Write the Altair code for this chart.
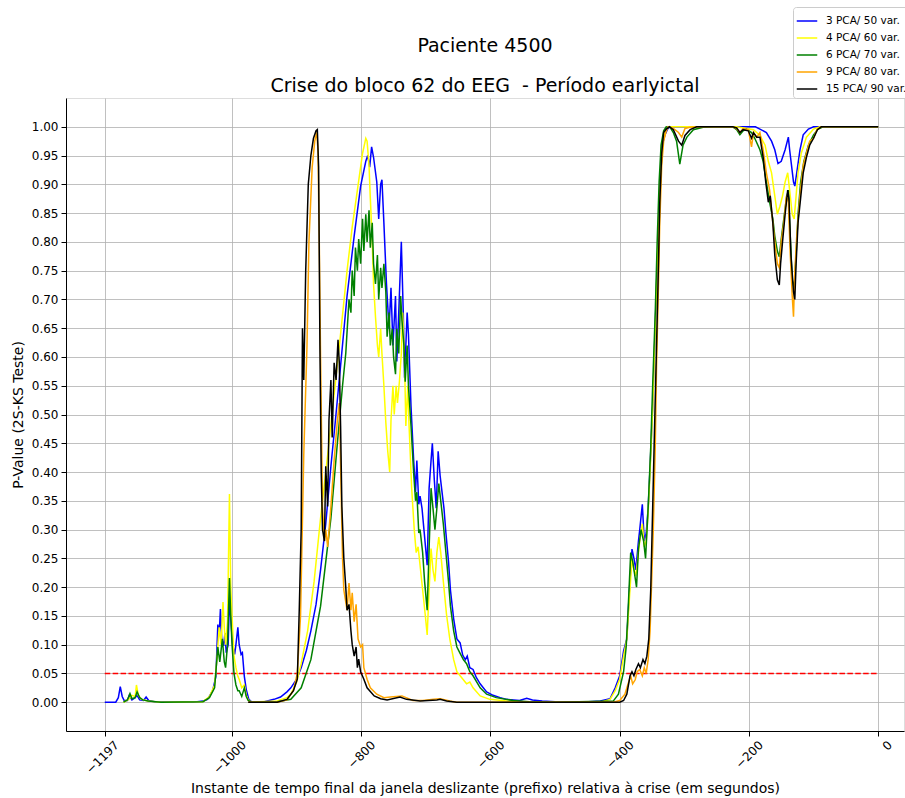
import altair as alt
import pandas as pd

names = ["3 PCA/ 50 var.", "4 PCA/ 60 var.", "6 PCA/ 70 var.", "9 PCA/ 80 var.", "15 PCA/ 90 var."]
colors = ["blue", "yellow", "green", "orange", "black"]

blue_x = [-1197, -1180, -1176, -1173, -1170, -1167, -1162, -1159, -1155, -1150, -1147, -1143, -1137, -1133, -1129, -1120,
          -1060, -1045, -1038, -1030, -1025, -1022, -1020, -1018, -1016, -1013, -1011, -1009, -1006, -1004, -1001, -999,
          -996, -994, -991, -989, -986, -984, -981, -978, -974, -969, -950, -935, -925, -915, -909, -900, -893, -885,
          -878, -870, -863, -855, -847, -840, -832, -822, -811, -801, -793, -790, -787, -784, -781, -776, -773, -770,
          -768, -765, -761, -757, -754, -751, -747, -745, -742, -738, -735, -733, -729, -727, -723, -719, -716, -714,
          -711, -709, -706, -703, -698, -695, -692, -690, -687, -684, -681, -678, -675, -672, -669, -665, -662, -657,
          -652, -647, -643, -639, -636, -632, -627, -622, -616, -606, -596, -585, -575, -555, -544, -535, -520, -500,
          -460, -430, -415, -407, -400, -394, -389, -385, -381, -378, -375, -371, -369, -365, -362, -359, -356, -353,
          -349, -345, -342, -339, -337, -334, -330, -326, -322, -250, -190, -183, -173, -165, -160, -155, -150, -144,
          -139, -137, -131, -129, -126, -121, -116, -108, -100, 0]
blue_y = [0, 0, 0.008, 0.027, 0.01, 0.003, 0.003, 0.012, 0.004, 0.008, 0.012, 0.004, 0.003, 0.009, 0.003, 0.001,
          0, 0.002, 0.005, 0.02, 0.045, 0.135, 0.115, 0.162, 0.11, 0.098, 0.12, 0.086, 0.1, 0.18, 0.13, 0.10,
          0.083, 0.10, 0.13, 0.10, 0.083, 0.086, 0.045, 0.022, 0.005, 0, 0.001, 0.005, 0.009, 0.018, 0.025, 0.04, 0.06, 0.09,
          0.124, 0.17, 0.23, 0.31, 0.41, 0.49, 0.585, 0.706, 0.81, 0.897, 0.94, 0.95, 0.93, 0.965, 0.947, 0.904, 0.84, 0.90,
          0.908, 0.833, 0.727, 0.649, 0.72, 0.62, 0.706, 0.592, 0.677, 0.80, 0.677, 0.564, 0.677, 0.64, 0.514, 0.422, 0.365, 0.42,
          0.344, 0.358, 0.337, 0.30, 0.238, 0.372, 0.42, 0.45, 0.387, 0.337, 0.436, 0.394, 0.365, 0.337, 0.294, 0.245, 0.195, 0.145,
          0.11, 0.103, 0.082, 0.074, 0.08, 0.06, 0.057, 0.043, 0.032, 0.018, 0.012, 0.008, 0.005, 0.003, 0.007, 0.004, 0.002, 0.001,
          0, 0.002, 0.006, 0.025, 0.046, 0.089, 0.11, 0.195, 0.266, 0.25, 0.23, 0.28, 0.30, 0.344, 0.28, 0.294, 0.337, 0.408,
          0.514, 0.656, 0.762, 0.833, 0.904, 0.968, 0.986, 0.996, 1.0, 1.0, 1.0, 0.996, 0.99, 0.975, 0.96, 0.936, 0.94, 0.96,
          0.982, 0.96, 0.904, 0.897, 0.92, 0.96, 0.986, 0.996, 1.0, 1.0]

yellow_x = [-1168, -1160, -1155, -1150, -1148, -1145, -1140, -1130, -1110, -1045, -1035, -1027, -1023, -1020, -1017, -1014,
            -1012, -1010, -1007, -1004, -1002, -1000, -997, -994, -991, -989, -985, -981, -978, -975, -970, -930, -915,
            -909, -900, -893, -883, -873, -863, -852, -842, -832, -822, -814, -806, -798, -793, -791, -788, -786, -783,
            -781, -778, -775, -773, -770, -768, -765, -762, -759, -756, -754, -751, -749, -746, -744, -741, -738, -736,
            -733, -731, -728, -726, -722, -718, -715, -712, -709, -705, -701, -698, -695, -692, -689, -686, -683, -680,
            -677, -673, -668, -663, -657, -652, -647, -642, -637, -632, -627, -616, -601, -575, -555, -430, -415, -407,
            -400, -394, -389, -385, -381, -378, -375, -371, -369, -365, -362, -359, -356, -353, -349, -345, -342, -339,
            -337, -334, -330, -326, -322, -219, -193, -183, -175, -170, -165, -160, -156, -152, -148, -144, -140, -137,
            -133, -130, -127, -124, -119, -111, -100, -90, 0]
yellow_y = [0, 0.005, 0.012, 0.01, 0.03, 0.012, 0.005, 0.002, 0, 0.001, 0.01, 0.03, 0.08, 0.13, 0.10, 0.174,
            0.13, 0.10, 0.14, 0.362, 0.2, 0.15, 0.08, 0.06, 0.045, 0.04, 0.025, 0.03, 0.012, 0.004, 0, 0.002, 0.008,
            0.014, 0.035, 0.067, 0.124, 0.21, 0.32, 0.43, 0.535, 0.64, 0.75, 0.826, 0.89, 0.954, 0.98, 0.975, 0.933, 0.876, 0.80,
            0.727, 0.67, 0.62, 0.60, 0.649, 0.606, 0.55, 0.486, 0.436, 0.40, 0.49, 0.55, 0.50, 0.55, 0.52, 0.557, 0.606, 0.677,
            0.592, 0.48, 0.55, 0.48, 0.372, 0.30, 0.26, 0.27, 0.238, 0.195, 0.152, 0.117, 0.195, 0.267, 0.23, 0.21, 0.26, 0.287,
            0.26, 0.21, 0.152, 0.11, 0.074, 0.053, 0.046, 0.039, 0.032, 0.035, 0.025, 0.011, 0.005, 0.002, 0, 0, 0.005, 0.02,
            0.04, 0.08, 0.11, 0.18, 0.25, 0.23, 0.22, 0.26, 0.28, 0.31, 0.27, 0.28, 0.33, 0.40, 0.51, 0.65, 0.76, 0.85,
            0.91, 0.97, 0.99, 0.998, 1.0, 1.0, 0.995, 0.985, 0.968, 0.94, 0.92, 0.88, 0.848, 0.862, 0.88, 0.904, 0.92, 0.89,
            0.848, 0.84, 0.88, 0.92, 0.954, 0.982, 0.996, 1.0, 1.0]

green_x = [-1168, -1162, -1158, -1155, -1150, -1147, -1143, -1138, -1130, -1110, -1045, -1035, -1027, -1022, -1019, -1017,
           -1015, -1012, -1010, -1007, -1004, -1002, -1000, -997, -994, -991, -989, -985, -981, -978, -975, -970, -930,
           -909, -893, -878, -863, -847, -837, -829, -824, -819, -816, -814, -811, -809, -806, -804, -801, -798, -796,
           -793, -791, -788, -786, -783, -781, -778, -775, -773, -770, -768, -765, -762, -760, -757, -755, -752, -750,
           -747, -745, -742, -739, -737, -734, -732, -729, -727, -723, -719, -716, -714, -711, -709, -705, -702, -698,
           -695, -692, -689, -686, -683, -680, -677, -673, -669, -665, -662, -657, -652, -647, -642, -637, -632, -627,
           -616, -606, -591, -565, -540, -500, -410, -402, -394, -390, -387, -383, -380, -377, -374, -371, -367, -363,
           -360, -356, -352, -349, -345, -342, -339, -336, -332, -328, -322, -317, -312, -307, -302, -296, -286, -271,
           -255, -225, -219, -214, -209, -204, -196, -191, -183, -178, -173, -168, -163, -160, -156, -153, -150, -146,
           -142, -139, -137, -133, -130, -127, -124, -120, -115, -108, -100, -93, -85, 0]
green_y = [0, 0.004, 0.015, 0.006, 0.008, 0.018, 0.008, 0.004, 0.002, 0, 0.001, 0.008, 0.025, 0.096, 0.07, 0.09,
           0.11, 0.07, 0.06, 0.1, 0.216, 0.15, 0.10, 0.05, 0.03, 0.02, 0.02, 0.01, 0.025, 0.01, 0.003, 0, 0.001,
           0.005, 0.025, 0.074, 0.167, 0.32, 0.45, 0.55, 0.606, 0.70, 0.677, 0.75, 0.706, 0.79, 0.75, 0.805, 0.762, 0.84, 0.784,
           0.848, 0.80, 0.855, 0.79, 0.833, 0.762, 0.727, 0.777, 0.70, 0.755, 0.72, 0.762, 0.713, 0.635, 0.677, 0.62, 0.649, 0.60,
           0.57, 0.649, 0.606, 0.706, 0.663, 0.62, 0.557, 0.62, 0.55, 0.48, 0.40, 0.35, 0.365, 0.294, 0.30, 0.26, 0.21, 0.16,
           0.267, 0.372, 0.337, 0.30, 0.337, 0.38, 0.35, 0.31, 0.26, 0.21, 0.167, 0.124, 0.096, 0.085, 0.074, 0.067, 0.053, 0.046,
           0.025, 0.014, 0.008, 0.003, 0.001, 0, 0.002, 0.014, 0.053, 0.096, 0.16, 0.26, 0.245, 0.223, 0.2, 0.266, 0.30, 0.28,
           0.25, 0.337, 0.443, 0.55, 0.677, 0.80, 0.904, 0.968, 0.993, 1.0, 0.999, 0.99, 0.975, 0.935, 0.968, 0.982, 0.995, 0.999,
           1.0, 1.0, 0.995, 0.986, 0.993, 0.996, 0.99, 0.98, 0.96, 0.94, 0.904, 0.869, 0.84, 0.81, 0.784, 0.774, 0.805, 0.84,
           0.876, 0.89, 0.833, 0.734, 0.72, 0.777, 0.848, 0.904, 0.94, 0.968, 0.986, 0.996, 1.0, 1.0]

orange_x = [-975, -930, -915, -905, -899, -894, -889, -884, -881, -876, -872, -869, -867, -865, -863, -860, -857, -855,
            -852, -847, -842, -837, -834, -832, -829, -827, -822, -819, -816, -814, -811, -808, -805, -801, -798, -796,
            -791, -786, -776, -765, -755, -737, -720, -705, -688, -678, -663, -652, -410, -400, -392, -387, -383, -380,
            -376, -373, -369, -365, -362, -359, -356, -353, -351, -348, -345, -343, -340, -338, -335, -332, -328, -325,
            -317, -309, -304, -299, -291, -276, -225, -219, -214, -209, -201, -196, -193, -188, -183, -178, -173, -168,
            -163, -160, -156, -153, -150, -146, -142, -139, -136, -133, -131, -129, -126, -121, -116, -111, -106, -100,
            -95, -88, 0]
orange_y = [0, 0, 0.004, 0.02, 0.05, 0.15, 0.43, 0.62, 0.80, 0.93, 0.975, 0.99, 0.96, 0.80, 0.60, 0.34, 0.28, 0.3,
            0.27, 0.34, 0.42, 0.49, 0.52, 0.41, 0.25, 0.195, 0.16, 0.207, 0.16, 0.19, 0.14, 0.17, 0.11, 0.096, 0.10, 0.06,
            0.04, 0.025, 0.014, 0.008, 0.009, 0.011, 0.003, 0.003, 0.005, 0.006, 0.002, 0, 0, 0.003, 0.014, 0.032, 0.046, 0.032,
            0.039, 0.053, 0.057, 0.046, 0.06, 0.05, 0.074, 0.124, 0.195, 0.30, 0.443, 0.585, 0.727, 0.833, 0.933, 0.975, 0.993, 1.0,
            0.997, 0.99, 0.982, 0.997, 0.999, 1.0, 1.0, 0.997, 0.99, 0.997, 0.995, 0.965, 0.99, 0.982, 0.99, 0.96, 0.92, 0.89,
            0.833, 0.80, 0.762, 0.755, 0.80, 0.833, 0.88, 0.869, 0.777, 0.706, 0.67, 0.748, 0.81, 0.88, 0.933, 0.954, 0.975, 0.98,
            0.995, 1.0, 1.0]

black_x = [-975, -930, -915, -905, -899, -896, -893, -891, -889, -886, -882, -878, -874, -870, -868, -866, -864, -862,
           -860, -857, -855, -852, -850, -847, -845, -842, -839, -836, -834, -832, -830, -827, -824, -822, -819, -816,
           -814, -811, -808, -806, -804, -801, -796, -791, -780, -770, -760, -740, -730, -709, -683, -678, -668, -652,
           -400, -394, -389, -384, -381, -378, -375, -371, -368, -364, -361, -358, -355, -352, -349, -346, -343, -340,
           -338, -335, -332, -328, -323, -317, -309, -304, -299, -291, -281, -225, -219, -214, -209, -201, -196, -193,
           -188, -183, -178, -174, -170, -167, -163, -160, -156, -153, -151, -148, -144, -140, -138, -135, -131, -129,
           -127, -124, -120, -116, -111, -106, -100, -94, -88, 0]
black_y = [0, 0, 0.005, 0.02, 0.04, 0.16, 0.3, 0.65, 0.56, 0.75, 0.90, 0.95, 0.98, 0.993, 0.995, 0.93, 0.62, 0.40,
           0.30, 0.28, 0.41, 0.34, 0.49, 0.56, 0.46, 0.59, 0.56, 0.63, 0.59, 0.48, 0.34, 0.25, 0.20, 0.16, 0.17, 0.124,
           0.10, 0.08, 0.096, 0.06, 0.075, 0.053, 0.04, 0.025, 0.011, 0.006, 0.004, 0.009, 0.005, 0.002, 0.004, 0.005, 0.002, 0,
           0, 0.003, 0.014, 0.046, 0.053, 0.046, 0.057, 0.067, 0.06, 0.074, 0.067, 0.08, 0.11, 0.195, 0.337, 0.48, 0.62, 0.762,
           0.869, 0.954, 0.99, 0.996, 1.0, 0.995, 0.975, 0.968, 0.985, 0.995, 1.0, 1.0, 0.998, 0.99, 0.995, 0.993, 0.98, 0.99,
           0.982, 0.982, 0.947, 0.904, 0.869, 0.88, 0.833, 0.777, 0.734, 0.725, 0.762, 0.80, 0.848, 0.89, 0.875, 0.777, 0.713, 0.70,
           0.762, 0.833, 0.876, 0.92, 0.947, 0.968, 0.98, 0.995, 1.0, 1.0]

x_ticks = [-1197, -1000, -800, -600, -400, -200, 0]
y_ticks = [0.0, 0.05, 0.1, 0.15, 0.2, 0.25, 0.3, 0.35, 0.4, 0.45, 0.5, 0.55, 0.6, 0.65, 0.7, 0.75, 0.8, 0.85,
           0.9, 0.95, 1.0]
threshold = 0.05
threshold_span = [-1197, 0]

series_x = [blue_x, yellow_x, green_x, orange_x, black_x]
series_y = [blue_y, yellow_y, green_y, orange_y, black_y]

frames = []
for name, xs, ys in zip(names, series_x, series_y):
    frames.append(pd.DataFrame({"x": xs, "y": ys, "serie": name}))

FONT = "DejaVu Sans"

x_scale = alt.Scale(domain=[-1257, 40], nice=False, zero=False)
y_scale = alt.Scale(domain=[-0.05, 1.05], nice=False, zero=False)

x_axis = alt.Axis(values=x_ticks, format="d", labelAngle=315, labelAlign="right", labelBaseline="top",
                  labelOffset=8, labelPadding=3, labelFontSize=12, labelFont=FONT, labelColor="black",
                  title="Instante de tempo final da janela deslizante (prefixo) relativa à crise (em segundos)",
                  titleFontSize=14, titleFont=FONT, titleFontWeight="normal", titleColor="black",
                  titleBaseline="alphabetic", titleY=61,
                  grid=True, gridColor="#b0b0b0", gridWidth=0.8, tickColor="black", tickSize=5,
                  domainColor="black", labelFlush=False, labelOverlap=False)
y_axis = alt.Axis(values=y_ticks, format=".2f", labelFontSize=12, labelFont=FONT, labelColor="black",
                  labelPadding=3, title="P-Value (2S-KS Teste)", titleFontSize=14, titleFont=FONT,
                  titleFontWeight="normal", titleColor="black", titlePadding=6, grid=True, gridColor="#b0b0b0",
                  gridWidth=0.8, tickColor="black", tickSize=5, domainColor="black", labelFlush=False,
                  labelOverlap=False)

color_scale = alt.Scale(domain=names, range=colors)
legend = alt.Legend(orient="none", legendX=727, legendY=-91, title=None, symbolType="stroke",
                    symbolStrokeWidth=1.5, symbolSize=420, labelFontSize=10.5, labelFont=FONT, labelColor="black",
                    strokeColor="#cccccc", fillColor="white", padding=3, cornerRadius=3, rowPadding=0,
                    labelOffset=8, labelLimit=200)

rule_df = pd.DataFrame({"x": [threshold_span[0]], "x2": [threshold_span[1]], "y": [threshold]})
rule = alt.Chart(rule_df).mark_rule(color="#ff0000", strokeDash=[5.5, 2.4], strokeWidth=1.5).encode(
    x=alt.X("x:Q", scale=x_scale, axis=x_axis), x2="x2:Q", y=alt.Y("y:Q", scale=y_scale, axis=y_axis))

layers = [rule]
for df in frames:
    layers.append(alt.Chart(df).mark_line(strokeWidth=1.5, interpolate="linear").encode(
        x=alt.X("x:Q", scale=x_scale, axis=x_axis),
        y=alt.Y("y:Q", scale=y_scale, axis=y_axis),
        color=alt.Color("serie:N", scale=color_scale, legend=legend),
        order=alt.Order("x:Q")))

chart = alt.layer(*layers).properties(
    width=838, height=633,
    padding={"left": 66, "top": 98, "right": 1, "bottom": 67},
    autosize=alt.AutoSizeParams(type="none"),
    title=alt.TitleParams(text=["Paciente 4500", "Crise do bloco 62 do EEG \u00a0- Período earlyictal"],
                          fontSize=19, font=FONT, fontWeight="normal", color="black", lineHeight=40,
                          anchor="middle", frame="group", offset=0, dy=89),
).configure_view(stroke="black", strokeWidth=1).configure(background="white")

chart.save("out.html", embed_options={"renderer": "svg", "actions": False})
